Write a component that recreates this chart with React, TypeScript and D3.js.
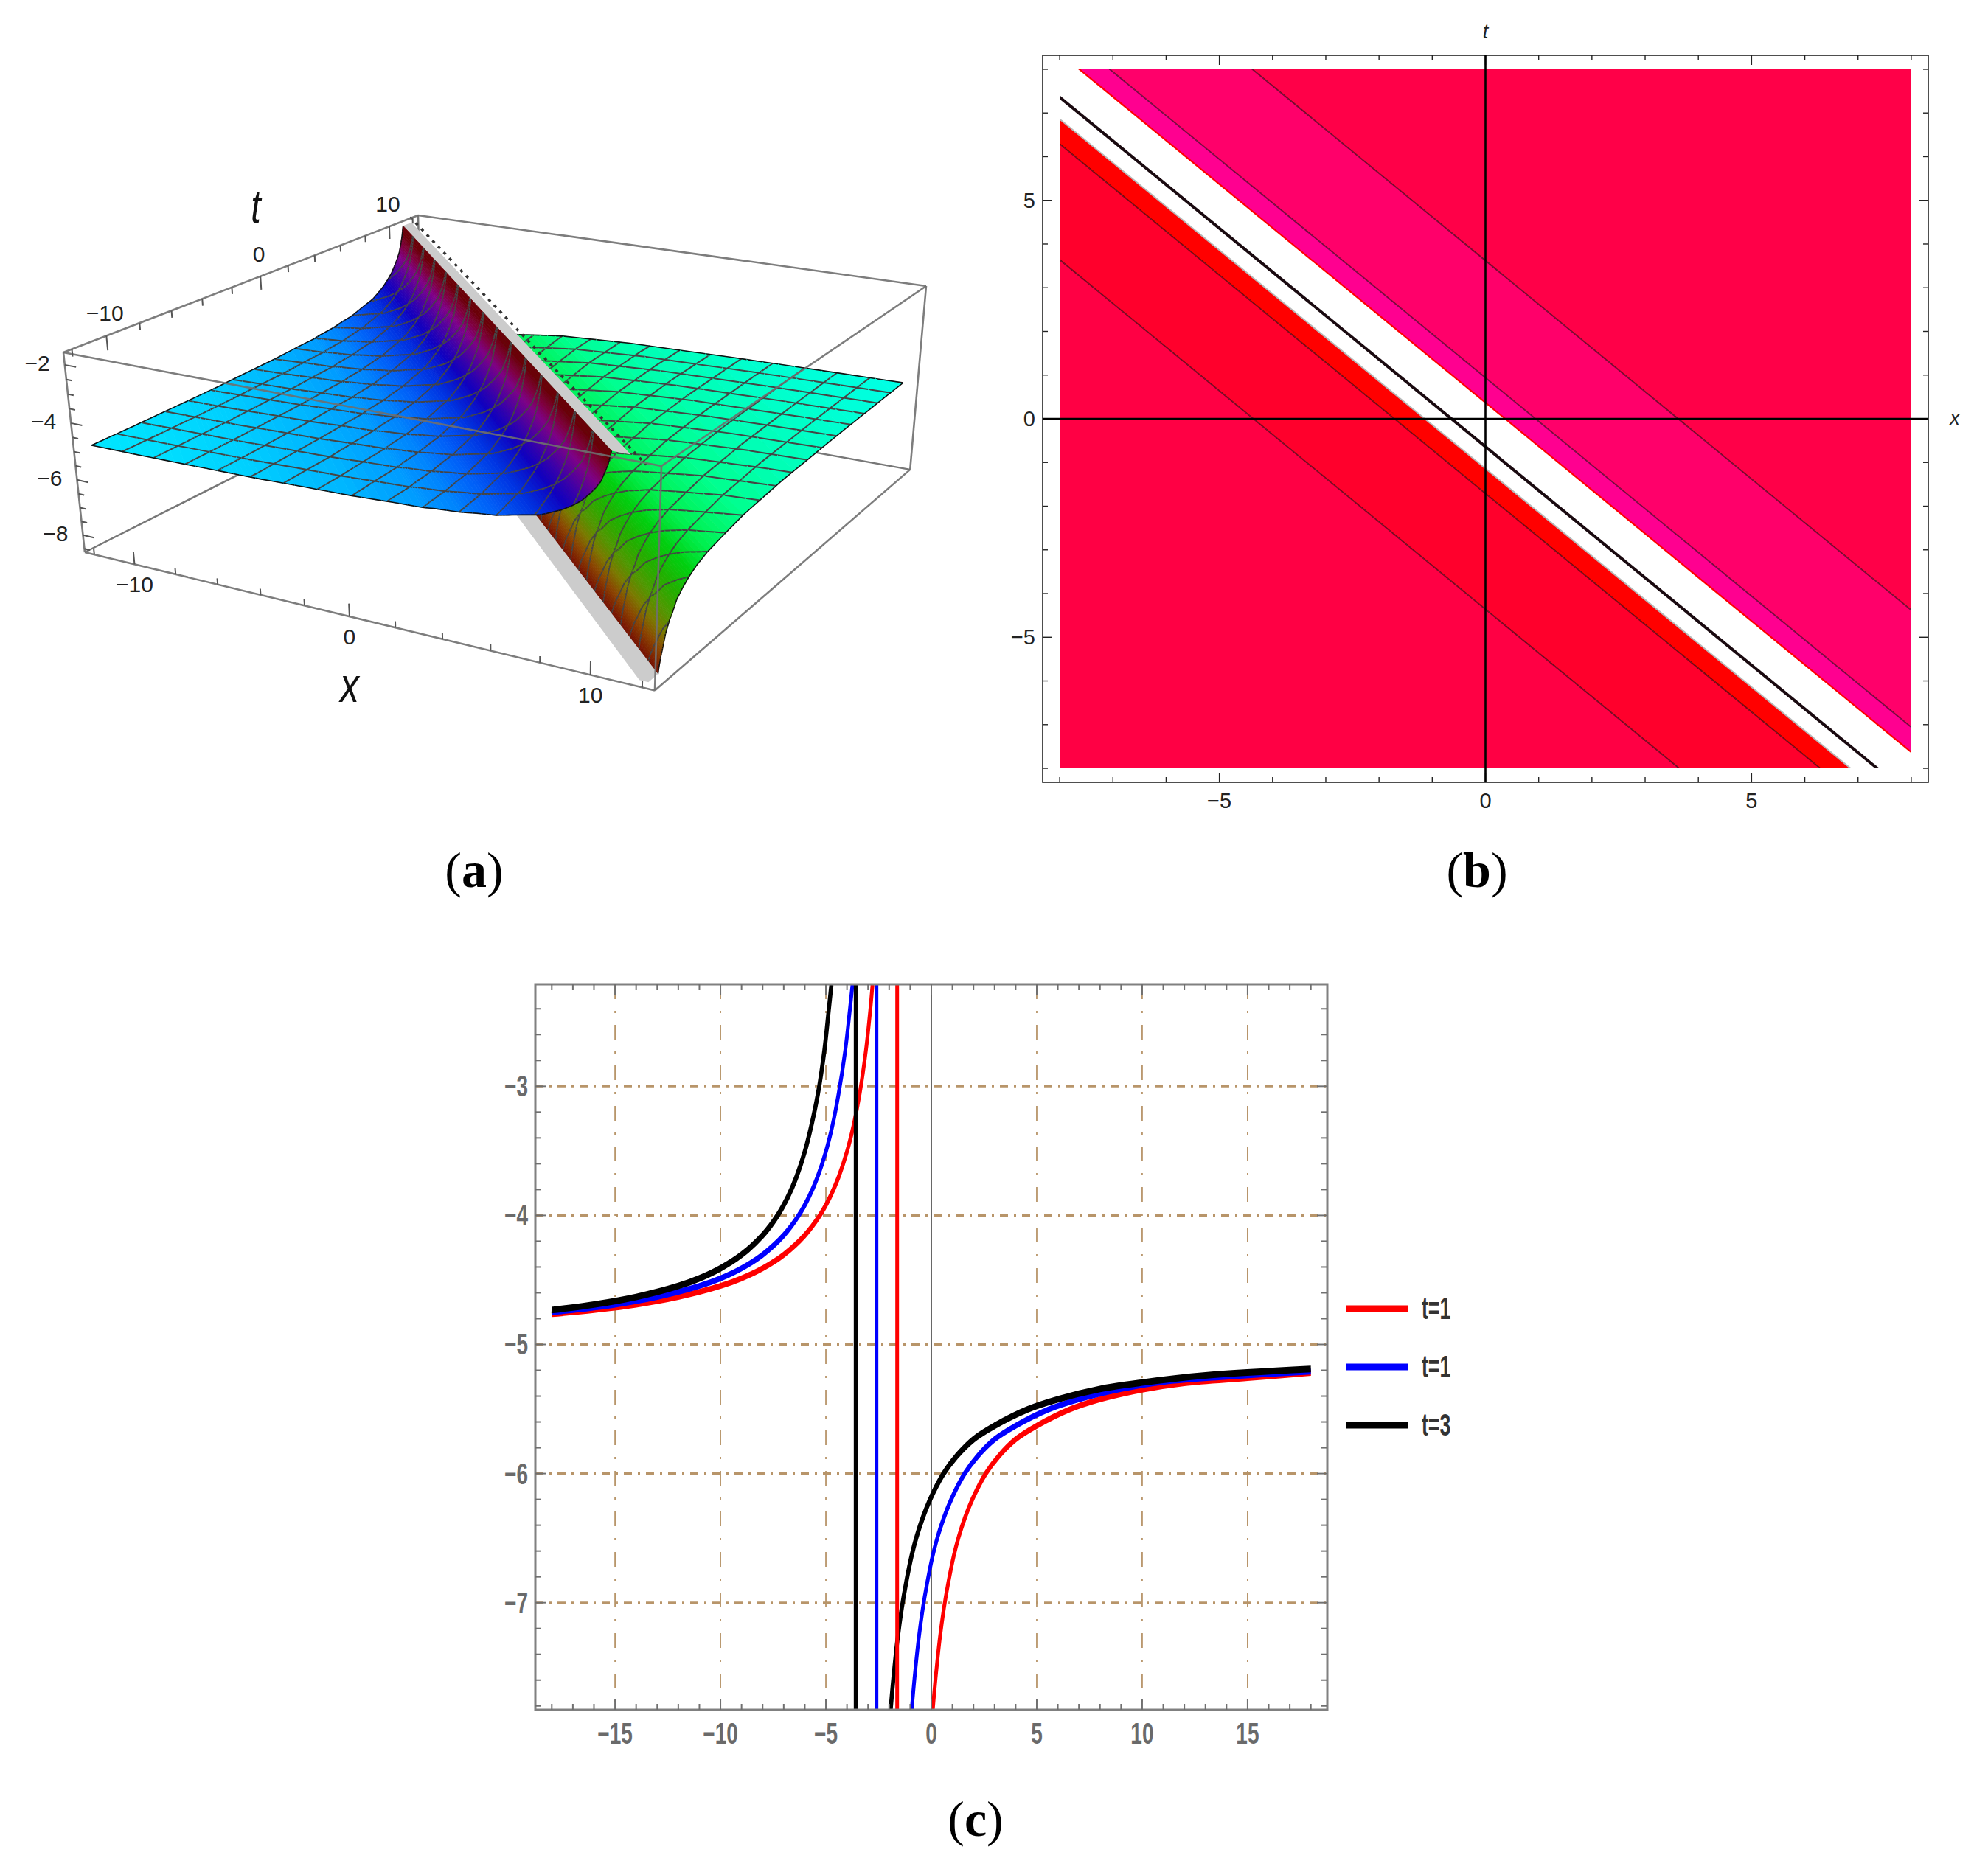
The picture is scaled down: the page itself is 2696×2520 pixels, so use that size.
import { scaleLinear, line as d3line, curveCatmullRom, range, path as d3path } from "d3";

// ---------- panel (a) : profile of the surface across the ridge, s = x + t
const S_LEFT = [-24, -22, -20, -18, -17, -16, -14, -12, -10.3, -9, -8.55, -7.5, -6.8, -6, -5.5, -5, -4.29, -4, -3.42, -3, -2.66, -2.35, -2.15, -1.96, -1.79, -1.7, -1.58];
const Z_LEFT = [-4.83, -4.82, -4.8, -4.776, -4.764, -4.75, -4.7, -4.66, -4.59, -4.55, -4.507, -4.45, -4.37, -4.3, -4.21, -4.12, -4, -3.9, -3.69, -3.48, -3.27, -3, -2.8, -2.57, -2.21, -2.0, -1.58];
const S_RIGHT = [0.74, 0.8, 0.93, 1.07, 1.24, 1.54, 1.71, 2.06, 2.53, 2.99, 3.58, 4.5, 5.9, 7.54, 11, 16, 19, 24];
const Z_RIGHT = [-8.63, -8.42, -8.1, -7.83, -7.48, -7.1, -6.98, -6.62, -6.37, -6.18, -6, -5.82, -5.67, -5.51, -5.355, -5.26, -5.22, -5.17];
const S_JUMP = -0.62, S_FLOOR = -0.35;
const COLOR_LEFT_Z = [-4.83, -4.7, -4.5, -4.3, -4, -3.6, -3.1, -2.7, -2.3, -1.85];
const COLOR_LEFT = ["#00e6ff", "#00bfff", "#0090ff", "#0060f8", "#0030e0", "#1000c0", "#5000a0", "#800088", "#800040", "#6a0008"];
const COLOR_RIGHT_Z = [-5.17, -5.3, -5.5, -5.8, -6.1, -6.5, -7, -7.5, -8, -8.5, -8.9];
const COLOR_RIGHT = ["#00ffe6", "#00ffc0", "#00ff90", "#00f050", "#00d010", "#20b000", "#4a9a00", "#7a7a00", "#8a4500", "#7a1800", "#600000"];
const MESH_VALUES = range(-10.5, 10.6, 1.5);
const XY_MAX = 12, BOX_XY = 12.48, Z_TOP = -1.58, Z_BOT = -8.63;
// screen position of the box corners, this is the camera of the 3D view
const CAM = {
  A: [86, 478], B: [567, 292], C: [1256, 388], D: [897, 632],
  E: [115, 749], F: [888, 941],
};
const X3_TICKS = range(-12, 12.1, 2);
const T3_TICKS = range(-12, 12.1, 2);
const Z3_TICKS = range(-8.5, -1.9, 0.5);
const X3_LABELS = [-10, 0, 10];
const T3_LABELS = [-10, 0, 10];
const Z3_LABELS = [-8, -6, -4, -2];

// ---------- panel (b)
const B_BANDS: [number, number, string][] = [
  [60, 3.62, "#ff0048"], [3.62, 0.94, "#ff006a"], [0.94, 0.37, "#ff0090"],
  [-1.14, -1.71, "#ff0000"], [-1.71, -4.36, "#ff002c"], [-4.36, -60, "#ff0044"],
];
const B_CONTOURS = [3.62, 0.94, -1.71, -4.36];
const B_JUMP = -0.64, B_EDGE_UP = 0.37, B_EDGE_LOW = -1.14;
const B_MAJOR = [-5, 0, 5];
const B_MINOR = range(-8, 8.1, 1);

// ---------- panel (c)
const LEFT_Y = [-4.733, -4.691, -4.632, -4.547, -4.488, -4.41, -4.305, -4.154, -4, -3.856, -3.704, -3.506, -3.312, -3.06, -2.72, -2.417, -2.214];
const RED_LX = [-16, -14, -12, -10, -9, -8, -7, -6, -5.29, -4.8, -4.4, -4, -3.7, -3.4, -3.1, -2.9, -2.79];
const BLUE_LX = [-17, -15, -13, -11, -10, -9, -8, -7, -6.29, -5.8, -5.4, -5, -4.7, -4.4, -4.08, -3.87, -3.74];
const BLACK_LX = [-18, -16, -14, -12, -11, -10, -9, -8, -7.29, -6.8, -6.4, -6, -5.7, -5.38, -5.07, -4.87, -4.74];
const RED_L0 = [-18, -4.765], BLUE_L0 = [-18, -4.75], BLACK_L0 = [-18.01, -4.733];
const RED_RX = [0.07, 0.2, 0.4, 0.6, 0.8, 1.06, 1.3, 1.6, 2, 2.58, 3.2, 4, 5, 6.54, 8, 10, 12, 15, 18];
const RED_RY = [-7.83, -7.59, -7.28, -7.04, -6.85, -6.64, -6.49, -6.34, -6.18, -6, -5.865, -5.735, -5.63, -5.505, -5.425, -5.35, -5.3, -5.26, -5.22];
const BLUE_RX = [-0.93, -0.8, -0.6, -0.4, -0.2, 0.06, 0.3, 0.6, 1, 1.58, 2.2, 3, 4, 5.54, 7, 9, 11, 14, 18];
const BLUE_RY = [-7.83, -7.59, -7.28, -7.04, -6.85, -6.64, -6.49, -6.34, -6.18, -6, -5.865, -5.735, -5.63, -5.505, -5.425, -5.345, -5.29, -5.25, -5.21];
const BLACK_RX = [-1.93, -1.8, -1.6, -1.4, -1.2, -0.94, -0.7, -0.4, 0, 0.58, 1.2, 2, 3, 4.54, 6, 8, 10, 13, 18];
const BLACK_RY = [-7.83, -7.59, -7.28, -7.04, -6.85, -6.64, -6.49, -6.34, -6.18, -6, -5.865, -5.735, -5.63, -5.505, -5.425, -5.345, -5.295, -5.24, -5.19];
const JUMP_X = [-1.62, -2.6, -3.58];
const SERIES_NAMES = ["t=1", "t=1", "t=3"];
const SERIES_COLORS = ["#ff0000", "#0000ff", "#000000"];
const SERIES_WIDTHS = [5, 5, 5.6];
const C_X_GRID = [-15, -10, -5, 5, 10, 15];
const C_X_LABELS = [-15, -10, -5, 0, 5, 10, 15];
const C_Y_GRID = [-3, -4, -5, -6, -7];
const C_X_MINOR = range(-18, 18.1, 1);
const C_Y_MINOR = range(-7.8, -2.2, 0.2);
const CURVE_STRETCH = 1.6; // the curves of (c) are thicker on the flat parts

const minus = (v: number) => (v < 0 ? "\u2212" + Math.abs(v) : String(v));
const sans = "'Liberation Sans', Arial, sans-serif";
const serif = "'Liberation Serif', serif";

// projective camera from the corners of the box
function makeProject() {
  const { A, B, C, D, E, F } = CAM;
  const [x0, y0] = A, [x1, y1] = D, [x2, y2] = C, [x3, y3] = B;
  const sx = x0 - x1 + x2 - x3, sy = y0 - y1 + y2 - y3;
  const dx1 = x1 - x2, dx2 = x3 - x2, dy1 = y1 - y2, dy2 = y3 - y2;
  const den = dx1 * dy2 - dx2 * dy1;
  const g = (sx * dy2 - dx2 * sy) / den, h = (dx1 * sy - sx * dy1) / den;
  const a = x1 - x0 + g * x1, b = x3 - x0 + h * x3, c = x0;
  const d = y1 - y0 + g * y1, e = y3 - y0 + h * y3, f = y0;
  const k = (a - F[0] * (g + 1) + E[0]) / (F[0] - E[0]);
  const wx = E[0] * (1 + k) - c, wy = E[1] * (1 + k) - f;
  const su = scaleLinear().domain([-BOX_XY, BOX_XY]).range([0, 1]);
  const sw = scaleLinear().domain([Z_TOP, Z_BOT]).range([0, 1]);
  return (x: number, t: number, z: number): [number, number] => {
    const u = su(x), v = su(t), w = sw(z);
    const q = g * u + h * v + 1 + k * w;
    return [(a * u + b * v + c + wx * w) / q, (d * u + e * v + f + wy * w) / q];
  };
}
const P = makeProject();
const pline = d3line<[number, number]>();

// polygon of the surface between the lines x+t=s0 and x+t=s1
function stripPolygon(s0: number, z0: number, s1: number, z1: number) {
  const lo = (s: number) => Math.max(-XY_MAX, s - XY_MAX);
  const hi = (s: number) => Math.min(XY_MAX, s + XY_MAX);
  const pts: [number, number][] = [];
  pts.push(P(lo(s0), s0 - lo(s0), z0));
  if (s0 < 0 && s1 > 0) pts.push(P(-XY_MAX, XY_MAX, z0 + ((z1 - z0) * -s0) / (s1 - s0)));
  pts.push(P(lo(s1), s1 - lo(s1), z1));
  pts.push(P(hi(s1), s1 - hi(s1), z1));
  if (s0 < 0 && s1 > 0) pts.push(P(XY_MAX, -XY_MAX, z0 + ((z1 - z0) * -s0) / (s1 - s0)));
  pts.push(P(hi(s0), s0 - hi(s0), z0));
  return pline(pts) + "Z";
}

// pieces of the mesh lines that fall inside one strip
function stripLines(s0: number, z0: number, s1: number, z1: number, values: number[]) {
  const p = d3path();
  const zAt = (s: number) => z0 + ((z1 - z0) * (s - s0)) / (s1 - s0);
  const seg = (c: number, isX: boolean) => {
    const sa = Math.max(s0, c - XY_MAX), sb = Math.min(s1, c + XY_MAX);
    if (sa >= sb) return;
    const a = isX ? P(c, sa - c, zAt(sa)) : P(sa - c, c, zAt(sa));
    const b = isX ? P(c, sb - c, zAt(sb)) : P(sb - c, c, zAt(sb));
    p.moveTo(a[0], a[1]);
    p.lineTo(b[0], b[1]);
  };
  values.forEach((c) => { seg(c, true); seg(c, false); });
  return p.toString();
}

function makeStrips(ss: number[], zz: number[], colorZ: number[], colors: string[]) {
  const col = scaleLinear<string>().domain(colorZ).range(colors).clamp(true);
  const out: { s0: number; z0: number; s1: number; z1: number; fill: string }[] = [];
  for (let i = 0; i < ss.length - 1; i++) {
    const n = 4;
    for (let j = 0; j < n; j++) {
      const s0 = ss[i] + ((ss[i + 1] - ss[i]) * j) / n, s1 = ss[i] + ((ss[i + 1] - ss[i]) * (j + 1)) / n;
      const z0 = zz[i] + ((zz[i + 1] - zz[i]) * j) / n, z1 = zz[i] + ((zz[i + 1] - zz[i]) * (j + 1)) / n;
      out.push({ s0, z0, s1, z1, fill: col((z0 + z1) / 2) });
    }
  }
  return out;
}

function Strip({ s0, z0, s1, z1, fill }: { s0: number; z0: number; s1: number; z1: number; fill: string }) {
  return (
    <g>
      <path d={stripPolygon(s0, z0, s1, z1)} fill={fill} stroke={fill} strokeWidth={0.8} />
      <path d={stripLines(s0, z0, s1, z1, MESH_VALUES)} stroke="#454545" strokeWidth={2} fill="none" />
      <path d={stripLines(s0, z0, s1, z1, [-XY_MAX, XY_MAX])} stroke="#111" strokeWidth={1.6} fill="none" />
    </g>
  );
}

function Panel3D() {
  const right = makeStrips(S_RIGHT, Z_RIGHT, COLOR_RIGHT_Z, COLOR_RIGHT).reverse();
  const left = makeStrips(S_LEFT, Z_LEFT, COLOR_LEFT_Z, COLOR_LEFT).reverse();
  const b = BOX_XY;
  const edge = (p: [number, number, number], q: [number, number, number]) =>
    pline([P(p[0], p[1], p[2]), P(q[0], q[1], q[2])]) ?? "";
  const hidden = [
    edge([-b, b, Z_TOP], [-b, b, Z_BOT]), edge([-b, -b, Z_BOT], [-b, b, Z_BOT]), edge([-b, b, Z_BOT], [b, b, Z_BOT]),
  ];
  const front = [
    edge([-b, -b, Z_TOP], [b, -b, Z_TOP]), edge([b, -b, Z_TOP], [b, b, Z_TOP]), edge([b, -b, Z_TOP], [b, -b, Z_BOT]),
    edge([-b, -b, Z_TOP], [-b, b, Z_TOP]), edge([-b, b, Z_TOP], [b, b, Z_TOP]), edge([b, b, Z_TOP], [b, b, Z_BOT]),
    edge([b, b, Z_BOT], [b, -b, Z_BOT]), edge([b, -b, Z_BOT], [-b, -b, Z_BOT]), edge([-b, -b, Z_BOT], [-b, -b, Z_TOP]),
  ];
  const jumpLine = pline([P(S_JUMP + XY_MAX * -1, XY_MAX, Z_TOP), P(XY_MAX, S_JUMP - XY_MAX, Z_TOP)]) ?? "";
  const ticks: string[] = [];
  X3_TICKS.forEach((v) => {
    const len = X3_LABELS.includes(v) ? 0.45 : 0.22;
    ticks.push(edge([v, -b, Z_BOT], [v, -b, Z_BOT + len]));
  });
  T3_TICKS.forEach((v) => {
    const len = T3_LABELS.includes(v) ? 0.5 : 0.25;
    ticks.push(edge([-b, v, Z_TOP], [-b, v, Z_TOP - len]));
  });
  Z3_TICKS.forEach((v) => {
    const len = Z3_LABELS.includes(v) ? 0.55 : 0.28;
    ticks.push(edge([-b, -b, v], [-b + len, -b, v]));
  });
  const tickText = { fontFamily: sans, fontSize: 30, fill: "#222" };
  return (
    <g>
      {hidden.map((d, i) => <path key={i} d={d} stroke="#777" strokeWidth={2.5} fill="none" />)}
      {right.map((s, i) => <Strip key={i} {...s} />)}
      <path d={stripPolygon(S_FLOOR, Z_BOT, S_RIGHT[0], Z_BOT)} fill="#cccccc" />
      <path d={jumpLine} stroke="#333" strokeWidth={3.5} strokeDasharray="4 7" fill="none" />
      <path d={stripPolygon(S_LEFT[S_LEFT.length - 1], Z_TOP, S_JUMP - 0.25, Z_TOP)} fill="#cccccc" />
      {left.map((s, i) => <Strip key={i} {...s} />)}
      {front.map((d, i) => <path key={i} d={d} stroke="#6f6f6f" strokeOpacity={0.9} strokeWidth={2.6} fill="none" />)}
      <path d={ticks.join("")} stroke="#555" strokeWidth={2} fill="none" />
      {X3_LABELS.map((v) => {
        const [px, py] = P(v, -b, Z_BOT);
        return <text key={v} x={px} y={py + 38} textAnchor="middle" {...tickText}>{minus(v)}</text>;
      })}
      {T3_LABELS.map((v) => {
        const [px, py] = P(-b, v, Z_TOP);
        return <text key={v} x={px - 2} y={py - 20} textAnchor="middle" {...tickText}>{minus(v)}</text>;
      })}
      {Z3_LABELS.map((v) => {
        const [px, py] = P(-b, -b, v);
        return <text key={v} x={px - 20} y={py + 8} textAnchor="end" {...tickText}>{minus(v)}</text>;
      })}
      <text transform="translate(347,302) scale(0.9,1.2)" textAnchor="middle" fontFamily={sans} fontStyle="italic" fontSize={54} fill="#111">t</text>
      <text transform="translate(474,952) scale(0.95,1.25)" textAnchor="middle" fontFamily={sans} fontStyle="italic" fontSize={54} fill="#111">x</text>
    </g>
  );
}

function PanelB() {
  const x = scaleLinear().domain([-8.32, 8.32]).range([1414, 2615]);
  const y = scaleLinear().domain([-8.32, 8.32]).range([1061, 75]);
  const band = (a: number, b: number) =>
    pline([[x(-30), y(a + 30)], [x(30), y(a - 30)], [x(30), y(b - 30)], [x(-30), y(b + 30)]]) + "Z";
  const diag = (c: number) => pline([[x(-30), y(c + 30)], [x(30), y(c - 30)]]) ?? "";
  const [fx0, fx1] = x.range(), [fy1, fy0] = y.range();
  return (
    <g>
      <defs>
        <clipPath id="bClip">
          <rect x={x(-8)} y={y(8)} width={x(8) - x(-8)} height={y(-8) - y(8)} />
        </clipPath>
      </defs>
      <g clipPath="url(#bClip)">
        {B_BANDS.map(([a, b, c]) => <path key={a} d={band(a, b)} fill={c} />)}
        {B_CONTOURS.map((c) => <path key={c} d={diag(c)} stroke="#000" strokeOpacity={0.55} strokeWidth={1.8} fill="none" />)}
        <path d={diag(B_EDGE_UP)} stroke="#ff0000" strokeWidth={2.2} fill="none" />
        <path d={diag(B_EDGE_LOW)} stroke="#b8b8b8" strokeWidth={2} fill="none" />
        <path d={diag(B_JUMP)} stroke="#1a0a10" strokeWidth={4} fill="none" />
      </g>
      <rect x={fx0} y={fy0} width={fx1 - fx0} height={fy1 - fy0} fill="none" stroke="#222" strokeWidth={1.6} />
      {B_MINOR.map((v) => {
        const lx = B_MAJOR.includes(v) ? 13 : 7;
        return (
          <g key={v} stroke="#222" strokeWidth={1.4}>
            <line x1={x(v)} x2={x(v)} y1={fy1} y2={fy1 - lx} />
            <line x1={x(v)} x2={x(v)} y1={fy0} y2={fy0 + lx} />
            <line y1={y(v)} y2={y(v)} x1={fx0} x2={fx0 + lx} />
            <line y1={y(v)} y2={y(v)} x1={fx1} x2={fx1 - lx} />
          </g>
        );
      })}
      <line x1={fx0} x2={fx1} y1={y(0)} y2={y(0)} stroke="#000" strokeWidth={2.6} />
      <line x1={x(0)} x2={x(0)} y1={fy0} y2={fy1} stroke="#000" strokeWidth={2.6} />
      {B_MAJOR.map((v) => (
        <g key={v} fontFamily={sans} fontSize={29} fill="#222">
          <text x={x(v)} y={fy1 + 35} textAnchor="middle">{minus(v)}</text>
          <text x={fx0 - 10} y={y(v) + 10} textAnchor="end">{minus(v)}</text>
        </g>
      ))}
      <text x={x(0)} y={52} textAnchor="middle" fontFamily={sans} fontStyle="italic" fontSize={27} fill="#222">t</text>
      <text x={fx1 + 36} y={y(0) + 8} textAnchor="middle" fontFamily={sans} fontStyle="italic" fontSize={27} fill="#222">x</text>
    </g>
  );
}

function PanelC() {
  const x = scaleLinear().domain([-18.78, 18.78]).range([726, 1800]);
  const y = scaleLinear().domain([-7.83, -2.21]).range([2319, 1335]);
  const line = d3line<[number, number]>().x((d) => x(d[0])).y((d) => y(d[1]) / CURVE_STRETCH).curve(curveCatmullRom.alpha(0.5));
  const zip = (a: number[], b: number[]) => a.map((v, i) => [v, b[i]] as [number, number]);
  const branches: [number[], number[], number[], number[]][] = [
    [RED_L0, RED_LX, RED_RX, RED_RY], [BLUE_L0, BLUE_LX, BLUE_RX, BLUE_RY], [BLACK_L0, BLACK_LX, BLACK_RX, BLACK_RY],
  ];
  const [fx0, fx1] = x.range(), [fy1, fy0] = y.range();
  const label = (px: number, py: number, txt: string, anchor: string) => (
    <text key={txt + py + px} transform={`translate(${px},${py}) scale(1,1.45)`} textAnchor={anchor}
      fontFamily={sans} fontWeight="bold" fontSize={28} fill="#6a6a6a">{txt}</text>
  );
  return (
    <g>
      {C_X_GRID.map((v) => <line key={v} x1={x(v)} x2={x(v)} y1={fy0} y2={fy1} stroke="#b8956a" strokeWidth={1.8} strokeDasharray="20 16 3 16" />)}
      {C_Y_GRID.map((v) => <line key={v} y1={y(v)} y2={y(v)} x1={fx0} x2={fx1} stroke="#b8956a" strokeWidth={3} strokeDasharray="11 8 3 8" />)}
      <line x1={x(0)} x2={x(0)} y1={fy0} y2={fy1} stroke="#000" strokeWidth={1.2} />
      {branches.map(([l0, lx, rx, ry], i) => (
        <g key={i} transform={`scale(1,${CURVE_STRETCH})`} fill="none" stroke={SERIES_COLORS[i]} strokeWidth={SERIES_WIDTHS[i]}>
          <path d={line([l0 as [number, number], ...zip(lx, LEFT_Y)]) ?? ""} />
          <path d={line(zip(rx, ry)) ?? ""} />
        </g>
      ))}
      {JUMP_X.map((v, i) => <line key={v} x1={x(v)} x2={x(v)} y1={fy0} y2={fy1} stroke={SERIES_COLORS[i]} strokeWidth={SERIES_WIDTHS[i]} />)}
      <rect x={fx0} y={fy0} width={fx1 - fx0} height={fy1 - fy0} fill="none" stroke="#808080" strokeWidth={3} />
      {C_X_MINOR.map((v) => {
        const len = v % 5 === 0 ? 14 : 8;
        return (
          <g key={v} stroke="#707070" strokeWidth={2}>
            <line x1={x(v)} x2={x(v)} y1={fy1} y2={fy1 - len} />
            <line x1={x(v)} x2={x(v)} y1={fy0} y2={fy0 + len} />
          </g>
        );
      })}
      {C_Y_MINOR.map((v) => {
        const len = Math.abs(v - Math.round(v)) < 0.01 ? 14 : 8;
        return (
          <g key={v} stroke="#707070" strokeWidth={2}>
            <line y1={y(v)} y2={y(v)} x1={fx0} x2={fx0 + len} />
            <line y1={y(v)} y2={y(v)} x1={fx1} x2={fx1 - len} />
          </g>
        );
      })}
      {C_X_LABELS.map((v) => label(x(v), fy1 + 46, minus(v), "middle"))}
      {C_Y_GRID.map((v) => label(fx0 - 10, y(v) + 14, minus(v), "end"))}
      {SERIES_NAMES.map((n, i) => {
        const ly = 1775 + i * 79;
        return (
          <g key={i}>
            <line x1={1826} x2={1909} y1={ly} y2={ly} stroke={SERIES_COLORS[i]} strokeWidth={9} />
            <text transform={`translate(1928,${ly + 14}) scale(0.95,1.5)`} fontFamily={sans} fontWeight="bold" fontSize={28} fill="#333">{n}</text>
          </g>
        );
      })}
    </g>
  );
}

function Caption({ x, y, c }: { x: number; y: number; c: string }) {
  return (
    <text x={x} y={y} textAnchor="middle" fontFamily={serif} fontSize={68} fill="#000">
      (<tspan fontWeight="bold">{c}</tspan>)
    </text>
  );
}

export default function App() {
  return (
    <svg width={2696} height={2520} viewBox="0 0 2696 2520" style={{ position: "absolute", left: 0, top: 0, background: "#fff" }}>
      <Panel3D />
      <PanelB />
      <PanelC />
      <Caption x={643} y={1203} c="a" />
      <Caption x={2003} y={1203} c="b" />
      <Caption x={1323} y={2490} c="c" />
    </svg>
  );
}
